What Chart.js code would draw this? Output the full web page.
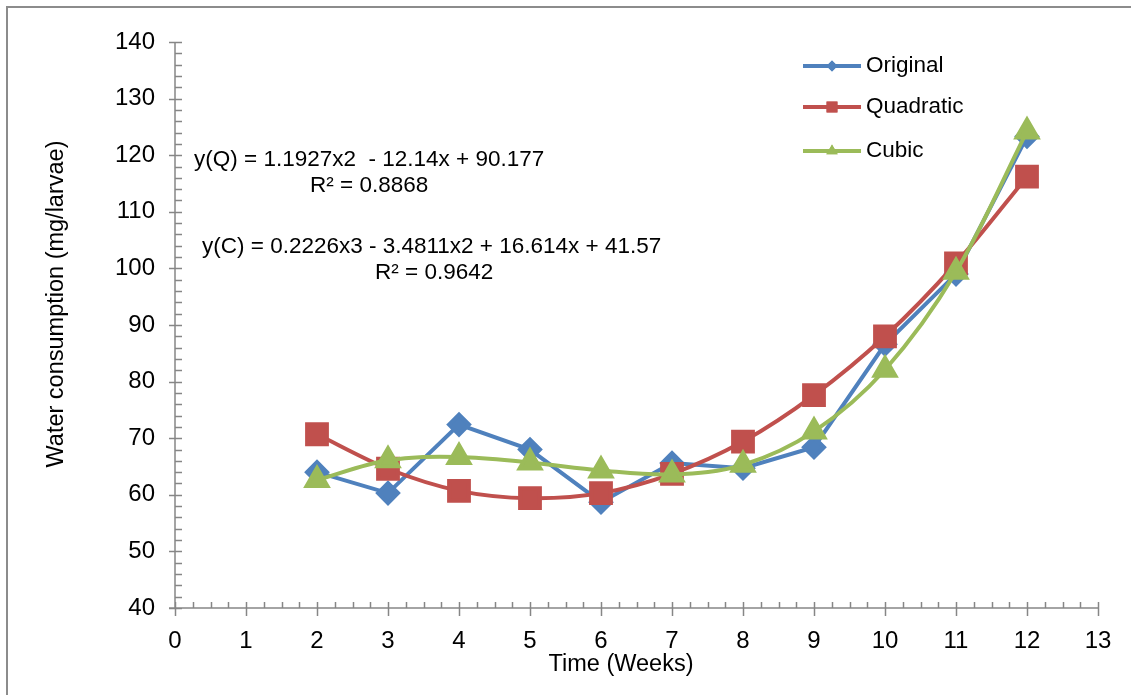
<!DOCTYPE html>
<html>
<head>
<meta charset="utf-8">
<script src="https://cdn.jsdelivr.net/npm/chart.js@4/dist/chart.umd.min.js"></script>
<style>
  html, body { margin: 0; padding: 0; background: #fff; }
  #wrap { position: relative; width: 1131px; height: 695px; }
</style>
</head>
<body>
<div id="wrap"><canvas id="chart" width="1131" height="695"></canvas></div>
<script>
// Data
const weeks = [2, 3, 4, 5, 6, 7, 8, 9, 10, 11, 12];
const original = [64.0, 60.3, 72.4, 68.0, 58.7, 65.6, 64.7, 68.4, 86.6, 99.0, 123.3];
const quadratic = [70.7, 64.6, 60.7, 59.4, 60.3, 63.7, 69.4, 77.6, 88.0, 100.9, 116.2];
const cubic = [62.6, 66.1, 66.7, 65.7, 64.3, 63.6, 65.3, 71.2, 82.1, 99.4, 124.2];

const xTicks = [0, 1, 2, 3, 4, 5, 6, 7, 8, 9, 10, 11, 12, 13];
const yTicks = [40, 50, 60, 70, 80, 90, 100, 110, 120, 130, 140];

const equations = [
    { text: 'y(Q) = 1.1927x2  - 12.14x + 90.177', x: 194, y: 160 },
    { text: 'R² = 0.8868', x: 310, y: 186 },
    { text: 'y(C) = 0.2226x3 - 3.4811x2 + 16.614x + 41.57', x: 202, y: 247 },
    { text: 'R² = 0.9642', x: 375, y: 273 }
];

const FONT = '"Liberation Sans", Arial, sans-serif';
const AXIS = '#868686';

const toPoints = vals => weeks.map((w, i) => ({ x: w, y: vals[i] }));

// Frame, ticks, titles, legend and equations
const decor = {
    id: 'decor',
    beforeDraw(chart) {
        const ctx = chart.ctx;
        ctx.save();
        ctx.strokeStyle = '#8c8c8c';
        ctx.lineWidth = 2;
        ctx.beginPath();
        ctx.moveTo(7, chart.height);
        ctx.lineTo(7, 7);
        ctx.lineTo(chart.width, 7);
        ctx.stroke();
        ctx.restore();
    },
    afterDraw(chart) {
        const ctx = chart.ctx;
        const xs = chart.scales.x, ys = chart.scales.y;
        const ax = xs.getPixelForValue(0), ay = ys.getPixelForValue(40);
        ctx.save();
        ctx.strokeStyle = AXIS;
        ctx.lineWidth = 1.5;
        ctx.beginPath();
        // y axis
        ctx.moveTo(ax, ys.getPixelForValue(140));
        ctx.lineTo(ax, ay);
        for (let v = 40; v <= 140; v += 2) {
            const p = Math.round(ys.getPixelForValue(v)) + 0.5;
            const major = v % 10 === 0;
            ctx.moveTo(major ? ax - 6 : ax, p);
            ctx.lineTo(ax + 7, p);
        }
        // x axis
        ctx.moveTo(ax - 6, ay);
        ctx.lineTo(xs.getPixelForValue(13), ay);
        for (let v = 0; v <= 13; v += 0.25) {
            const p = Math.round(xs.getPixelForValue(v)) + 0.5;
            const major = v % 1 === 0;
            ctx.moveTo(p, ay - 6);
            ctx.lineTo(p, major ? ay + 8 : ay);
        }
        ctx.stroke();

        ctx.fillStyle = '#000';
        ctx.font = '23.5px ' + FONT;
        ctx.textBaseline = 'middle';
        ctx.textAlign = 'center';
        ctx.fillText('Time (Weeks)', 621, 665);
        ctx.save();
        ctx.translate(57, 304);
        ctx.rotate(-Math.PI / 2);
        ctx.fillText('Water consumption (mg/larvae)', 0, 0);
        ctx.restore();

        ctx.font = '22.5px ' + FONT;
        ctx.textAlign = 'left';
        equations.forEach(e => ctx.fillText(e.text, e.x, e.y));

        // legend
        const rows = [66, 107, 151];
        chart.data.datasets.forEach((ds, i) => {
            const y = rows[i];
            ctx.strokeStyle = ds.borderColor;
            ctx.lineWidth = 4;
            ctx.beginPath();
            ctx.moveTo(803, y);
            ctx.lineTo(861, y);
            ctx.stroke();
            ctx.fillStyle = ds.borderColor;
            Chart.helpers.drawPoint(ctx, { pointStyle: ds.pointStyle, radius: ds.pointRadius * 0.55, rotation: 0, borderWidth: 0 }, 832, y);
            ctx.fill();
            ctx.fillStyle = '#000';
            ctx.fillText(ds.label, 866, y);
        });
        ctx.restore();
    }
};

new Chart(document.getElementById('chart'), {
    type: 'scatter',
    data: {
        datasets: [
            {
                label: 'Original',
                data: toPoints(original),
                borderColor: '#4F81BD',
                backgroundColor: '#4F81BD',
                pointStyle: 'rectRot',
                pointRadius: 10,
                borderWidth: 4,
                showLine: true,
                tension: 0,
                order: 3
            },
            {
                label: 'Quadratic',
                data: toPoints(quadratic),
                borderColor: '#C0504D',
                backgroundColor: '#C0504D',
                pointStyle: 'rect',
                pointRadius: 14,
                borderWidth: 4,
                showLine: true,
                tension: 0.3,
                order: 2
            },
            {
                label: 'Cubic',
                data: toPoints(cubic),
                borderColor: '#9BBB59',
                backgroundColor: '#9BBB59',
                pointStyle: 'triangle',
                pointRadius: 12,
                borderWidth: 4,
                showLine: true,
                tension: 0.35,
                order: 1
            }
        ]
    },
    options: {
        responsive: false,
        animation: false,
        events: [],
        layout: { padding: { top: 42, right: 33, left: 0, bottom: 0 } },
        plugins: {
            legend: { display: false },
            tooltip: { enabled: false }
        },
        elements: { point: { borderWidth: 0 } },
        scales: {
            x: {
                type: 'linear',
                min: 0,
                max: 13,
                afterFit: s => { s.height = 87; },
                afterBuildTicks: s => { s.ticks = xTicks.map(v => ({ value: v })); },
                border: { display: false },
                grid: { display: false },
                ticks: { padding: 11, color: '#000', font: { family: FONT, size: 24 } }
            },
            y: {
                min: 40,
                max: 140,
                afterFit: s => { s.width = 175; },
                afterBuildTicks: s => { s.ticks = yTicks.map(v => ({ value: v })); },
                border: { display: false },
                grid: { display: false },
                ticks: { padding: 12, color: '#000', font: { family: FONT, size: 24 } }
            }
        }
    },
    plugins: [decor]
});
</script>
</body>
</html>
